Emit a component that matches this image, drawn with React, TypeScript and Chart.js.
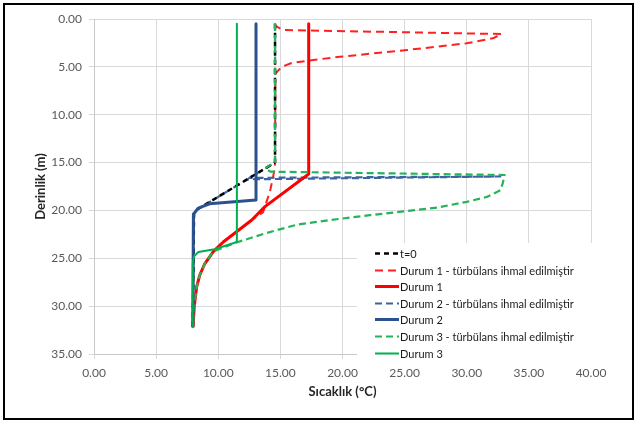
import React, { useEffect, useRef } from 'react';
import { Chart, registerables } from 'chart.js';

Chart.register(...registerables);

const FONT = 'Lato, "Open Sans", "DejaVu Sans", sans-serif';

// ---- Data (temperature °C vs depth m) ----
const seriesLabels = [
  't=0',
  'Durum 1 - türbülans ihmal edilmiştir',
  'Durum 1',
  'Durum 2 - türbülans ihmal edilmiştir',
  'Durum 2',
  'Durum 3 - türbülans ihmal edilmiştir',
  'Durum 3',
];

const t0Temp = [14.57, 14.57, 8.3, 8.05, 7.95];
const t0Depth = [0.5, 15.0, 19.9, 20.3, 32.2];

const durum1TurbTemp = [14.57, 14.57, 15.2, 32.8, 32.1, 30.0, 25.2, 19.8, 17.5, 15.9, 15.1, 14.6, 14.57, 14.17, 13.6, 12.7, 10.4, 9.6, 8.9, 8.5, 8.26, 8.07, 7.97];
const durum1TurbDepth = [0.5, 0.7, 1.15, 1.57, 2.02, 2.54, 3.24, 3.95, 4.3, 4.6, 5.0, 5.7, 15.5, 18.0, 20.2, 21.0, 23.3, 24.3, 25.6, 26.8, 28.0, 30.0, 32.2];

const durum1Temp = [17.28, 17.28, 13.76, 12.7, 10.4, 9.6, 8.9, 8.5, 8.26, 8.07, 7.97];
const durum1Depth = [0.5, 16.2, 19.6, 21.0, 23.3, 24.3, 25.6, 26.8, 28.0, 30.0, 32.2];

const durum2TurbTemp = [14.57, 14.57, 12.5, 32.7, 12.35, 8.3, 8.05, 7.95];
const durum2TurbDepth = [0.5, 15.0, 16.6, 16.45, 16.75, 19.9, 20.3, 32.2];

const durum2Temp = [13.04, 13.04, 9.3, 8.4, 8.0, 7.95];
const durum2Depth = [0.5, 18.9, 19.3, 19.75, 20.4, 32.2];

const durum3TurbTemp = [14.57, 14.57, 13.76, 14.2, 33.05, 32.9, 32.7, 31.6, 30.0, 27.6, 24.9, 22.2, 19.0, 16.3, 13.76, 11.35, 9.6, 8.9, 8.5, 8.26, 8.07, 7.97];
const durum3TurbDepth = [0.5, 15.0, 15.6, 15.95, 16.3, 17.15, 17.9, 18.6, 19.1, 19.7, 20.1, 20.5, 21.0, 21.5, 22.4, 23.4, 24.3, 25.6, 26.8, 28.0, 30.0, 32.2];

const durum3Temp = [11.5, 11.5, 9.7, 8.4, 8.05, 7.95, 7.95];
const durum3Depth = [0.5, 23.3, 24.05, 24.35, 24.8, 25.5, 32.2];

const xMin = 0, xMax = 40, xStep = 5;
const yMin = 0, yMax = 35, yStep = 5;

export default function App() {
  const ref = useRef<HTMLCanvasElement>(null);

  useEffect(() => {
    document.body.style.margin = '0';
    const canvas = ref.current;
    if (!canvas) return;

    // drawOrder: lower = drawn later (on top)
    const series = [
      { temp: t0Temp, depth: t0Depth, color: '#000000', width: 2.5, dash: [5, 4], drawOrder: 4 },
      { temp: durum1TurbTemp, depth: durum1TurbDepth, color: '#FF2020', width: 2, dash: [8, 5], drawOrder: 6 },
      { temp: durum1Temp, depth: durum1Depth, color: '#FF0000', width: 3, dash: [] as number[], drawOrder: 3 },
      { temp: durum2TurbTemp, depth: durum2TurbDepth, color: '#3C64A0', width: 2.2, dash: [7, 4], drawOrder: 5 },
      { temp: durum2Temp, depth: durum2Depth, color: '#2B5290', width: 3, dash: [] as number[], drawOrder: 1 },
      { temp: durum3TurbTemp, depth: durum3TurbDepth, color: '#25B458', width: 2.2, dash: [7, 4], drawOrder: 2 },
      { temp: durum3Temp, depth: durum3Depth, color: '#00B050', width: 2, dash: [] as number[], drawOrder: 0 },
    ];

    const datasets = series.map((s, i) => ({
      label: seriesLabels[i],
      data: s.temp.map((t, k) => ({ x: t, y: s.depth[k] })),
      showLine: true,
      borderColor: s.color,
      backgroundColor: s.color,
      borderWidth: s.width,
      borderDash: s.dash,
      borderCapStyle: 'butt' as const,
      borderJoinStyle: 'round' as const,
      pointRadius: 0,
      pointHoverRadius: 0,
      tension: 0,
      fill: false,
      order: s.drawOrder,
    }));

    const legendPlugin = {
      id: 'boxLegend',
      afterDraw(chart: any) {
        const { ctx, chartArea } = chart;
        const boxX = chartArea.right - 234;
        const boxY = chartArea.bottom - 111;
        ctx.save();
        ctx.fillStyle = '#ffffff';
        ctx.fillRect(boxX, boxY, 246, 119);
        ctx.font = `11px ${FONT}`;
        ctx.textBaseline = 'middle';
        ctx.textAlign = 'left';
        chart.data.datasets.forEach((ds: any, i: number) => {
          const y = Math.round(boxY + 10 + i * 16.6) + 0.5;
          ctx.strokeStyle = ds.borderColor;
          ctx.lineWidth = ds.borderWidth;
          ctx.setLineDash(ds.borderDash || []);
          ctx.beginPath();
          ctx.moveTo(boxX + 18, y);
          ctx.lineTo(boxX + 42, y);
          ctx.stroke();
          ctx.setLineDash([]);
          ctx.fillStyle = '#1a1a1a';
          ctx.fillText(ds.label, boxX + 43, y + 0.5);
        });
        ctx.restore();
      },
    };

    const tickFont = { family: FONT, size: 12 };
    const titleFont = { family: FONT, size: 13, weight: 'bold' as const };

    const chart = new Chart(canvas, {
      type: 'scatter',
      data: { datasets },
      options: {
        responsive: false,
        animation: false,
        devicePixelRatio: 1,
        layout: { padding: { top: 19, right: 46, left: 0, bottom: 0 } },
        plugins: {
          legend: { display: false },
          tooltip: { enabled: false },
        },
        scales: {
          x: {
            type: 'linear',
            min: xMin,
            max: xMax,
            ticks: {
              stepSize: xStep,
              padding: 7,
              color: '#595959',
              font: tickFont,
              callback: (v: any) => Number(v).toFixed(2),
            },
            grid: { color: '#D9D9D9', tickLength: 5, lineWidth: 1 },
            border: { color: '#C8C8C8' },
            title: {
              display: true,
              text: 'Sıcaklık (°C)',
              color: '#262626',
              font: titleFont,
              padding: { top: 0, bottom: 23 },
            },
            afterFit: (s: any) => { s.height = 69; },
          },
          y: {
            type: 'linear',
            reverse: true,
            min: yMin,
            max: yMax,
            ticks: {
              stepSize: yStep,
              padding: 7,
              color: '#595959',
              font: tickFont,
              callback: (v: any) => Number(v).toFixed(2),
            },
            grid: { color: '#D9D9D9', tickLength: 5, lineWidth: 1 },
            border: { color: '#C8C8C8' },
            title: {
              display: true,
              text: 'Derinlik (m)',
              color: '#262626',
              font: titleFont,
              padding: { top: 33, bottom: 0 },
            },
            afterFit: (s: any) => { s.width = 94; },
          },
        },
      },
      plugins: [legendPlugin],
    } as any);

    return () => chart.destroy();
  }, []);

  return (
    <div style={{ position: 'relative', width: 637, height: 423 }}>
      <canvas
        ref={ref}
        width={637}
        height={423}
        style={{ position: 'absolute', left: 0, top: 0, width: 637, height: 423 }}
      />
      <div
        style={{
          position: 'absolute',
          left: 3,
          top: 3,
          width: 631,
          height: 417,
          border: '2px solid #000',
          boxSizing: 'border-box',
          pointerEvents: 'none',
        }}
      />
    </div>
  );
}
